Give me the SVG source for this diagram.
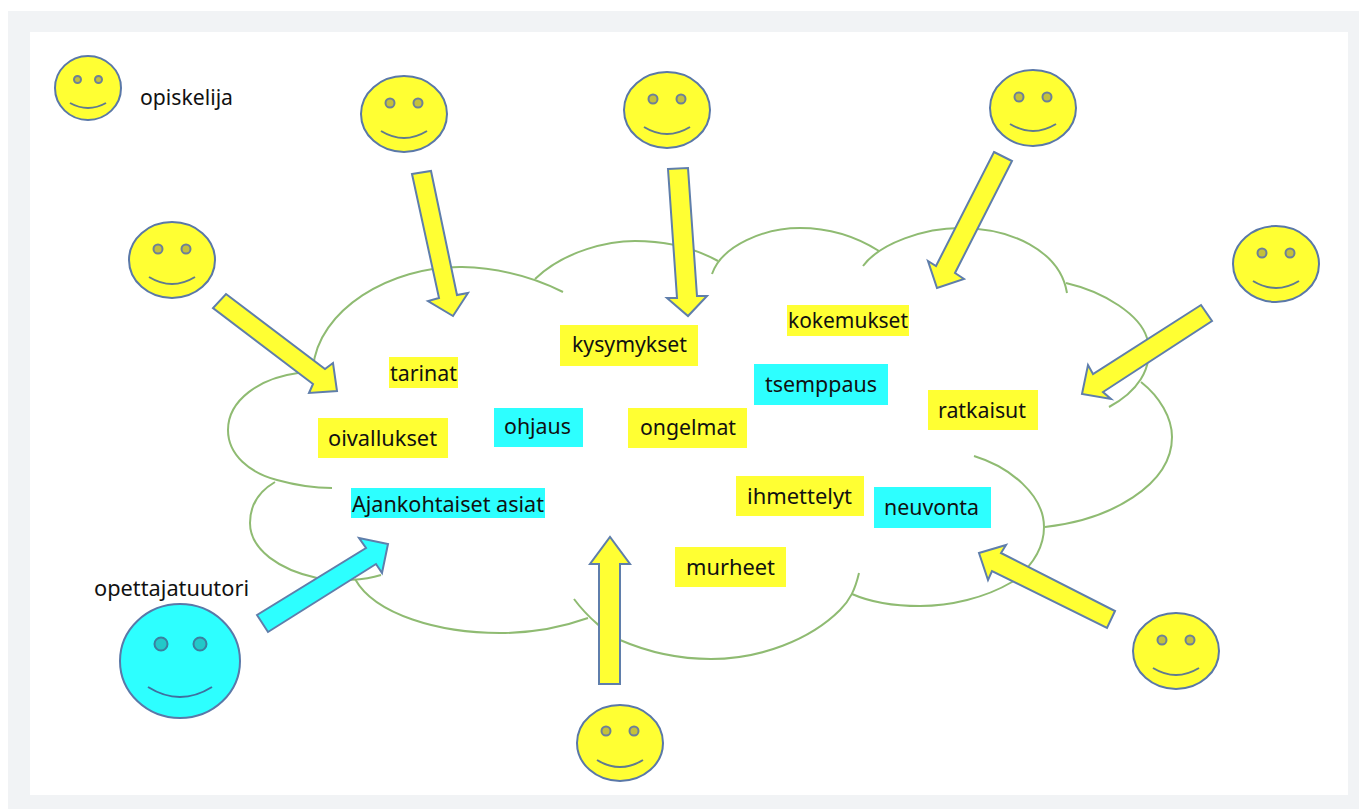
<svg xmlns="http://www.w3.org/2000/svg" width="1359" height="809" viewBox="0 0 1359 809">
<style>
.cloud{fill:none;stroke:#8fbb72;stroke-width:2}
.ar{stroke:#5f7eab;stroke-width:2;stroke-linejoin:miter}
.y{fill:#ffff33}
.c{fill:#2dffff}
.face{stroke:#5a78a8;stroke-width:2}
.eye{fill:#c4c03a;stroke:#6d8098;stroke-width:2}
.eyec{fill:#22c8c8;stroke:#3b7f9f;stroke-width:2}
.mouth{fill:none;stroke:#5f7a90;stroke-width:2}
text{font-family:"Noto Sans","Open Sans","Liberation Sans",sans-serif;font-size:22px;fill:#111}
</style>
<rect x="8" y="11" width="1351" height="798" fill="#f1f3f5"/>
<rect x="30" y="32" width="1318" height="763" fill="#fff"/>
<g id="cloud">
<path class="cloud" d="M313,368C318,310 390,266 462,267C500,268 535,278 563,292"/>
<path class="cloud" d="M535,279C565,250 610,241 635,241C670,241 698,250 718,261"/>
<path class="cloud" d="M712,274C722,245 765,228 800,228C835,228 860,239 879,251"/>
<path class="cloud" d="M863,266C880,243 925,228 960,228C1010,228 1060,250 1067,293"/>
<path class="cloud" d="M1066,283C1105,292 1140,315 1147,338C1155,370 1135,393 1109,407"/>
<path class="cloud" d="M1141,382C1160,397 1172,418 1172,437C1172,485 1110,520 1045,527"/>
<path class="cloud" d="M974,456C1010,467 1044,495 1044,527C1044,550 1030,568 1012,582C985,598 950,606 920,606C895,606 870,602 852,594"/>
<path class="cloud" d="M859,573C855,590 850,600 840,610C810,640 760,659 711,659C680,659 650,653 620,640C608,634 588,618 574,599"/>
<path class="cloud" d="M588,618C560,628 530,633 500,633C440,633 375,615 355,579"/>
<path class="cloud" d="M275,482C258,492 250,507 250,523C250,550 280,570 317,578C340,582 365,580 381,575"/>
<path class="cloud" d="M298,373C260,378 228,400 228,430C228,455 250,473 277,480C295,485 315,488 332,488"/>
</g>
<g id="connectors">
<polygon class="ar y" points="226,294 325,369 333,363 337,391 309,393 313,384 213,308"/>
<polygon class="ar y" points="412,174 431,171 457,295 468,293 453,316 428,301 439,298"/>
<polygon class="ar y" points="668,169 688,168 697,296 707,296 688,316 667,298 677,298"/>
<polygon class="ar y" points="994,152 1012,161 955,273 964,279 937,288 928,261 936,266"/>
<polygon class="ar y" points="1201,305 1212,321 1103,392 1111,399 1082,394 1088,365 1093,374"/>
<polygon class="ar y" points="1115,611 1107,628 992,571 988,580 979,553 1006,545 1001,553"/>
<polygon class="ar y" points="599,684 620,684 620,564 630,564 610,537 590,564 599,564"/>
<polygon class="ar c" points="257,615 268,632 376,564 382,573 388,544 359,538 366,548"/>
</g>
<g id="student-legend"><ellipse class="face y" cx="88" cy="88" rx="33" ry="32"/><circle class="eye" cx="77.500" cy="79.500" r="3.500"/><circle class="eye" cx="98.500" cy="79.500" r="3.500"/><path class="mouth" d="M70,103Q88,113 106,103"/></g>
<g id="student-1"><ellipse class="face y" cx="172" cy="260" rx="43" ry="38"/><circle class="eye" cx="158" cy="249" r="4.500"/><circle class="eye" cx="186" cy="249" r="4.500"/><path class="mouth" d="M149,277Q172,291 195,277"/></g>
<g id="student-2"><ellipse class="face y" cx="404" cy="114" rx="43" ry="38"/><circle class="eye" cx="390" cy="103" r="4.500"/><circle class="eye" cx="418" cy="103" r="4.500"/><path class="mouth" d="M381,131Q404,145 427,131"/></g>
<g id="student-3"><ellipse class="face y" cx="667" cy="110" rx="43" ry="38"/><circle class="eye" cx="653" cy="99" r="4.500"/><circle class="eye" cx="681" cy="99" r="4.500"/><path class="mouth" d="M644,127Q667,141 690,127"/></g>
<g id="student-4"><ellipse class="face y" cx="1033" cy="108" rx="43" ry="38"/><circle class="eye" cx="1019" cy="97" r="4.500"/><circle class="eye" cx="1047" cy="97" r="4.500"/><path class="mouth" d="M1010,124Q1033,138 1056,124"/></g>
<g id="student-5"><ellipse class="face y" cx="1276" cy="264" rx="43" ry="38"/><circle class="eye" cx="1262" cy="253" r="4.500"/><circle class="eye" cx="1290" cy="253" r="4.500"/><path class="mouth" d="M1253,281Q1276,295 1299,281"/></g>
<g id="student-6"><ellipse class="face y" cx="1176" cy="651" rx="43" ry="38"/><circle class="eye" cx="1162" cy="640" r="4.500"/><circle class="eye" cx="1190" cy="640" r="4.500"/><path class="mouth" d="M1153,668Q1176,682 1199,668"/></g>
<g id="student-7"><ellipse class="face y" cx="620" cy="743" rx="43" ry="38"/><circle class="eye" cx="606" cy="731" r="4.500"/><circle class="eye" cx="634" cy="731" r="4.500"/><path class="mouth" d="M597,760Q620,774 643,760"/></g>
<g id="teacher"><ellipse class="face c" cx="180" cy="661" rx="60" ry="57"/><circle class="eyec" cx="161" cy="644" r="6.500"/><circle class="eyec" cx="200" cy="644" r="6.500"/><path class="mouth" style="stroke:#3f6f9f" d="M148,687Q180,707 212,687"/></g>
<g id="legend-opiskelija"><text x="140" y="105" textLength="93" lengthAdjust="spacingAndGlyphs">opiskelija</text></g>
<g id="legend-opettajatuutori"><text x="94" y="596" textLength="155" lengthAdjust="spacingAndGlyphs">opettajatuutori</text></g>
<g id="tarinat"><rect class="y" x="389" y="357" width="69" height="31"/><text x="390" y="381" textLength="67" lengthAdjust="spacingAndGlyphs">tarinat</text></g>
<g id="oivallukset"><rect class="y" x="318" y="418" width="130" height="40"/><text x="328" y="446" textLength="109" lengthAdjust="spacingAndGlyphs">oivallukset</text></g>
<g id="ajankohtaiset"><rect class="c" x="351" y="488" width="194" height="30"/><text x="352" y="512" textLength="192" lengthAdjust="spacingAndGlyphs">Ajankohtaiset asiat</text></g>
<g id="ohjaus"><rect class="c" x="494" y="408" width="89" height="39"/><text x="504" y="434" textLength="67" lengthAdjust="spacingAndGlyphs">ohjaus</text></g>
<g id="kysymykset"><rect class="y" x="560" y="325" width="138" height="41"/><text x="572" y="352" textLength="115" lengthAdjust="spacingAndGlyphs">kysymykset</text></g>
<g id="ongelmat"><rect class="y" x="628" y="408" width="119" height="40"/><text x="640" y="435" textLength="96" lengthAdjust="spacingAndGlyphs">ongelmat</text></g>
<g id="kokemukset"><rect class="y" x="787" y="305" width="122" height="31"/><text x="788" y="328" textLength="120" lengthAdjust="spacingAndGlyphs">kokemukset</text></g>
<g id="tsemppaus"><rect class="c" x="754" y="364" width="134" height="41"/><text x="765" y="392" textLength="112" lengthAdjust="spacingAndGlyphs">tsemppaus</text></g>
<g id="ratkaisut"><rect class="y" x="928" y="390" width="110" height="40"/><text x="938" y="418" textLength="88" lengthAdjust="spacingAndGlyphs">ratkaisut</text></g>
<g id="ihmettelyt"><rect class="y" x="736" y="476" width="128" height="40"/><text x="747" y="504" textLength="105" lengthAdjust="spacingAndGlyphs">ihmettelyt</text></g>
<g id="neuvonta"><rect class="c" x="874" y="487" width="117" height="41"/><text x="884" y="515" textLength="95" lengthAdjust="spacingAndGlyphs">neuvonta</text></g>
<g id="murheet"><rect class="y" x="675" y="547" width="111" height="40"/><text x="686" y="575" textLength="89" lengthAdjust="spacingAndGlyphs">murheet</text></g>
</svg>
